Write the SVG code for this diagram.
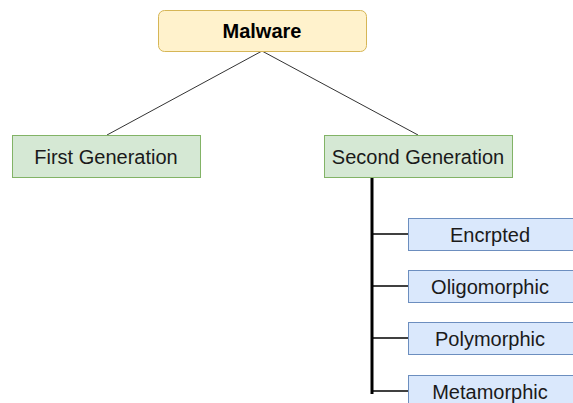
<svg xmlns="http://www.w3.org/2000/svg" width="573" height="403" viewBox="0 0 573 403">
  <style>
    text { font-family: "Liberation Sans", Arial, sans-serif; font-size: 20px; fill: #1a1a1a; text-anchor: middle; }
    .root rect { fill: #fff2cc; stroke: #d6b656; stroke-width: 1; }
    .gen rect { fill: #d5e8d4; stroke: #82b366; stroke-width: 1; }
    .kind rect { fill: #dae8fc; stroke: #6c8ebf; stroke-width: 1; }
    .thin { stroke: #333333; stroke-width: 1; fill: none; }
    .spine { stroke: #000000; stroke-width: 3; fill: none; }
    .branch { stroke: #000000; stroke-width: 1.5; fill: none; }
  </style>
  <rect width="573" height="403" fill="#ffffff"/>
  <g id="connectors">
    <line class="thin" x1="262" y1="51" x2="107" y2="135"/>
    <line class="thin" x1="262" y1="51" x2="418" y2="135"/>
    <line class="spine" x1="372" y1="177" x2="372" y2="394"/>
    <line class="branch" x1="373" y1="234" x2="408" y2="234"/>
    <line class="branch" x1="373" y1="286" x2="408" y2="286"/>
    <line class="branch" x1="373" y1="338" x2="408" y2="338"/>
    <line class="branch" x1="373" y1="391" x2="408" y2="391"/>
  </g>
  <g id="malware" class="root">
    <rect x="158.5" y="10.5" width="208" height="41" rx="6"/>
    <text x="262" y="38" style="font-weight:bold;fill:#000">Malware</text>
  </g>
  <g id="first-generation" class="gen">
    <rect x="12.5" y="135.5" width="188" height="42"/>
    <text x="106" y="164">First Generation</text>
  </g>
  <g id="second-generation" class="gen">
    <rect x="324.5" y="135.5" width="188" height="42"/>
    <text x="418" y="164">Second Generation</text>
  </g>
  <g id="encrpted" class="kind">
    <rect x="408.5" y="218.5" width="166" height="32"/>
    <text x="490" y="242">Encrpted</text>
  </g>
  <g id="oligomorphic" class="kind">
    <rect x="408.5" y="270.5" width="166" height="32"/>
    <text x="490" y="294">Oligomorphic</text>
  </g>
  <g id="polymorphic" class="kind">
    <rect x="408.5" y="322.5" width="166" height="32"/>
    <text x="490" y="346">Polymorphic</text>
  </g>
  <g id="metamorphic" class="kind">
    <rect x="408.5" y="375.5" width="166" height="32"/>
    <text x="490" y="399">Metamorphic</text>
  </g>
</svg>
